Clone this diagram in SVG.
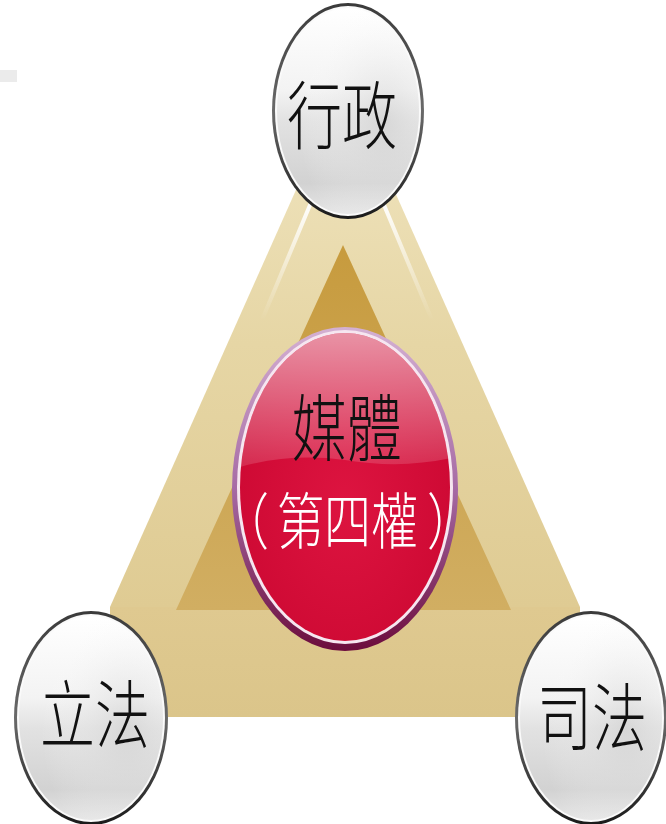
<svg xmlns="http://www.w3.org/2000/svg" width="666" height="824" viewBox="0 0 666 824">
<defs>
<style>
.lbl{font-family:"Noto Sans CJK TC","Noto Sans CJK SC",sans-serif;font-weight:300;text-anchor:middle}
.start{text-anchor:start}
.dark{fill:#111}
.white{fill:#ffffff}
.rim{fill:url(#rimGrad)}
.ring{fill:#fafafa}
.body{fill:url(#silverGrad)}
.shade{fill:url(#silverShade)}
</style>
<linearGradient id="topFace" x1="0" y1="0" x2="0" y2="1">
<stop offset="0" stop-color="#f1e6c2"/>
<stop offset="0.5" stop-color="#e6d6a5"/>
<stop offset="1" stop-color="#dfcb93"/>
</linearGradient>
<linearGradient id="frontFace" x1="0" y1="0" x2="0" y2="1">
<stop offset="0" stop-color="#dfc990"/>
<stop offset="1" stop-color="#dbc58a"/>
</linearGradient>
<linearGradient id="innerTri" x1="0" y1="0" x2="0" y2="1">
<stop offset="0" stop-color="#c79b3e"/>
<stop offset="1" stop-color="#d1ae62"/>
</linearGradient>
<linearGradient id="hlLeft" x1="0" y1="0" x2="0" y2="1">
<stop offset="0" stop-color="#ffffff" stop-opacity="0.95"/>
<stop offset="1" stop-color="#ffffff" stop-opacity="0"/>
</linearGradient>
<linearGradient id="rimGrad" x1="0" y1="0" x2="0" y2="1">
<stop offset="0" stop-color="#3a3a3a"/>
<stop offset="0.5" stop-color="#6a6a6a"/>
<stop offset="1" stop-color="#1a1a1a"/>
</linearGradient>
<linearGradient id="silverGrad" x1="0" y1="0" x2="0" y2="1">
<stop offset="0" stop-color="#ffffff"/>
<stop offset="0.4" stop-color="#f3f3f3"/>
<stop offset="0.55" stop-color="#e2e2e2"/>
<stop offset="0.85" stop-color="#d2d2d2"/>
<stop offset="1" stop-color="#e6e6e6"/>
</linearGradient>
<radialGradient id="silverShade" cx="0.75" cy="0.55" r="0.6">
<stop offset="0" stop-color="#cfcfcf" stop-opacity="0.6"/>
<stop offset="1" stop-color="#ffffff" stop-opacity="0"/>
</radialGradient>
<linearGradient id="purpleRing" x1="0" y1="0" x2="0" y2="1">
<stop offset="0" stop-color="#d4b0d2"/>
<stop offset="0.5" stop-color="#a66aa4"/>
<stop offset="1" stop-color="#6c0c3c"/>
</linearGradient>
<radialGradient id="redGrad" cx="0.5" cy="0.55" r="0.6">
<stop offset="0" stop-color="#dd1440"/>
<stop offset="1" stop-color="#cc0832"/>
</radialGradient>
<linearGradient id="glossGrad" x1="0" y1="0" x2="0" y2="1">
<stop offset="0" stop-color="#ffffff" stop-opacity="0.6"/>
<stop offset="1" stop-color="#ffffff" stop-opacity="0.12"/>
</linearGradient>
<clipPath id="redClip"><ellipse cx="345" cy="487" rx="105" ry="154"/></clipPath>
</defs>

<rect width="666" height="824" fill="#ffffff"/>
<rect x="0" y="70" width="17" height="12" fill="#ebebeb"/>

<g id="connectors">
<polygon points="110,607 580,607 580,717 110,717" fill="url(#frontFace)"/>
<polygon points="345,80 580,607 110,607" fill="url(#topFace)"/>
<polygon points="343,245 511,610 176,610" fill="url(#innerTri)"/>
<line x1="310" y1="205" x2="262" y2="320" stroke="url(#hlLeft)" stroke-width="4" stroke-linecap="round"/>
<line x1="384" y1="205" x2="432" y2="320" stroke="url(#hlLeft)" stroke-width="4" stroke-linecap="round"/>
</g>

<g id="node-media">
<ellipse cx="345" cy="489" rx="113" ry="162" fill="url(#purpleRing)"/>
<ellipse cx="345" cy="487" rx="108" ry="157" fill="#f6e6f0"/>
<ellipse cx="345" cy="487" rx="105" ry="154" fill="url(#redGrad)"/>
<path d="M230 320 L460 320 L460 456 Q405 470 345 460 Q285 452 230 470 Z" fill="url(#glossGrad)" clip-path="url(#redClip)"/>
<g transform="translate(347,455) scale(1,1.33)"><text class="lbl dark" x="0" y="0" font-size="55">媒體</text></g>
<g transform="translate(0,544) scale(1,1.3)"><text class="lbl start white" x="222" y="0" font-size="47">（<tspan dx="8">第四權</tspan><tspan dx="9">）</tspan></text></g>
</g>

<g id="node-executive">
<ellipse cx="348" cy="111" rx="76" ry="108" class="rim"/>
<ellipse cx="348" cy="111" rx="73" ry="105" class="ring"/>
<ellipse cx="348" cy="111" rx="71" ry="103" class="body"/>
<ellipse cx="348" cy="111" rx="71" ry="103" class="shade"/>
<g transform="translate(342,143) scale(1,1.35)"><text class="lbl dark" x="0" y="0" font-size="55">行政</text></g>
</g>

<g id="node-legislative">
<ellipse cx="91" cy="718" rx="77" ry="107" class="rim"/>
<ellipse cx="91" cy="718" rx="74" ry="104" class="ring"/>
<ellipse cx="91" cy="718" rx="72" ry="102" class="body"/>
<ellipse cx="91" cy="718" rx="72" ry="102" class="shade"/>
<g transform="translate(95,742) scale(1,1.35)"><text class="lbl dark" x="0" y="0" font-size="55">立法</text></g>
</g>

<g id="node-judicial">
<ellipse cx="591" cy="718" rx="76" ry="107" class="rim"/>
<ellipse cx="591" cy="718" rx="73" ry="104" class="ring"/>
<ellipse cx="591" cy="718" rx="71" ry="102" class="body"/>
<ellipse cx="591" cy="718" rx="71" ry="102" class="shade"/>
<g transform="translate(592,745) scale(1,1.35)"><text class="lbl dark" x="0" y="0" font-size="55">司法</text></g>
</g>
</svg>
